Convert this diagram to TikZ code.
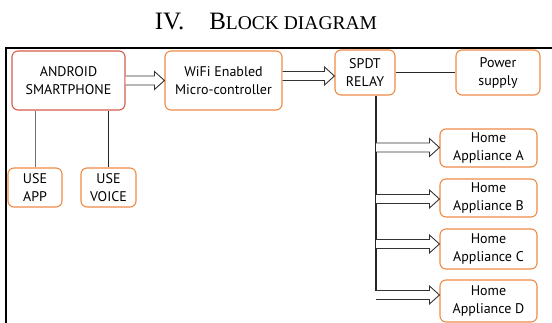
\documentclass[tikz,border=0pt]{standalone}
\usepackage{fontspec}
\setmainfont{Liberation Serif}
\newfontfamily\boxfont{PT Sans}
\usetikzlibrary{calc}
\definecolor{boxorange}{HTML}{EE8A45}
\definecolor{boxred}{HTML}{D65A4A}
\tikzset{
  blk/.style={draw=boxorange, line width=1.1pt, rounded corners=6pt, align=center,
    font=\boxfont\fontsize{14}{18}\selectfont, inner sep=0pt, text=black},
  conn/.style={draw=black!85, line width=1pt},
  harrow/.style={draw=black!80, line width=0.9pt, fill=white, line join=miter},
  frame/.style={draw=black, line width=1.8pt}
}
\newcommand\harrow[2]{\draw[harrow] let \p1=(#1), \p2=(#2) in
  (\x1,\y1+4.5pt) -- (\x2-10pt,\y1+4.5pt) -- (\x2-10pt,\y1+9pt) -- (\x2,\y1)
  -- (\x2-10pt,\y1-9pt) -- (\x2-10pt,\y1-4.5pt) -- (\x1,\y1-4.5pt);}
\begin{document}
\begin{tikzpicture}[x=1pt,y=-1pt]
\useasboundingbox (0,0) rectangle (552,323);
% title
\node[anchor=base, inner sep=0pt] (title) at (266,30)
  {{\fontsize{25}{25}\selectfont IV.\quad B}{\fontsize{19.5}{19.5}\selectfont LOCK DIAGRAM}};
% frame
\coordinate (fr1) at (552,48);
\coordinate (fr2) at (6,48);
\coordinate (fr3) at (6,323);
\draw[frame] (fr1) -- (fr2) -- (fr3);
% boxes
\node[blk, draw=boxred, minimum width=113pt, minimum height=59pt] (android) at (68.5,80.5) {ANDROID\\SMARTPHONE};
\node[blk, minimum width=117pt, minimum height=59pt] (wifi) at (223.5,80.5) {WiFi Enabled\\Micro-controller};
\node[blk, minimum width=60pt, minimum height=45pt] (relay) at (365,72.5) {SPDT\\RELAY};
\node[blk, minimum width=84pt, minimum height=45pt] (power) at (498,72.5) {Power\\supply};
\node[blk, minimum width=54pt, minimum height=39pt] (app) at (35,187.5) {USE\\APP};
\node[blk, minimum width=55pt, minimum height=39pt] (voice) at (108.5,187.5) {USE\\VOICE};
\node[blk, minimum width=97pt, minimum height=38pt] (homeA) at (488.5,148) {Home\\Appliance A};
\node[blk, minimum width=97pt, minimum height=38pt] (homeB) at (488.5,198) {Home\\Appliance B};
\node[blk, minimum width=97pt, minimum height=40pt] (homeC) at (488.5,249) {Home\\Appliance C};
\node[blk, minimum width=97pt, minimum height=42pt] (homeD) at (488.5,301) {Home\\Appliance D};
% connectors
\draw[conn, draw=black!55] (app.north) -- (app.north |- android.south);
\draw[conn] (voice.north) -- (voice.north |- android.south);
\harrow{android.east}{wifi.west |- android.east}
\coordinate (w2) at ($(wifi.east)+(0,-4.5)$);
\harrow{w2}{relay.west |- w2}
\draw[conn] (relay.east) -- (power.west);
% bus
\coordinate (bt) at ($(relay.south)+(11,0)$);
\coordinate (bA) at (376,147.5);
\coordinate (bB) at (376,199);
\coordinate (bC) at (376,244);
\coordinate (bD) at (376,295);
\coordinate (bEnd) at (376,291);
\draw[conn, line width=1.3pt] (bt) -- (bEnd);
\harrow{bA}{homeA.west |- bA}
\harrow{bB}{homeB.west |- bB}
\harrow{bC}{homeC.west |- bC}
\harrow{bD}{homeD.west |- bD}
\end{tikzpicture}
\end{document}
